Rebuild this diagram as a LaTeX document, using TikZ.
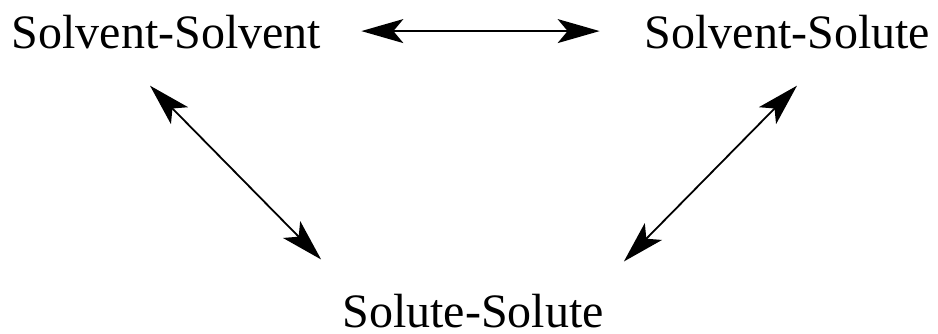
\documentclass[tikz,border=0pt]{standalone}
\usepackage{fontspec}
\setmainfont{Liberation Serif}
\usetikzlibrary{arrows.meta}

\begin{document}
\begin{tikzpicture}[x=1pt,y=-1pt,
    term/.style={inner sep=0pt,anchor=base,font=\fontsize{48}{58}\selectfont},
    link/.style={line width=1.8pt,{Stealth[length=42pt,width=24pt,inset=10pt]}-{Stealth[length=42pt,width=24pt,inset=10pt]}}]%
  \useasboundingbox (0,0) rectangle (938,333);%
  % the three kinds of interaction
  \node[term] (vv) at (166.5,48) {Solvent-Solvent};%
  \node[term] (vs) at (787.5,48) {Solvent-Solute};%
  \node[term] (ss) at (473,327) {Solute-Solute};%
  % arrows between them
  \draw[link] ([xshift=40pt,yshift=0.5pt]vv.east) -- ([xshift=-45pt,yshift=0.5pt]vs.west);%
  \draw[link] ([xshift=-16.5pt,yshift=-37pt]vv.south) -- ([xshift=-21pt,yshift=34pt]ss.north west);%
  \draw[link] ([xshift=9.5pt,yshift=-37pt]vs.south) -- ([xshift=20pt,yshift=32pt]ss.north east);%
\end{tikzpicture}
\end{document}
